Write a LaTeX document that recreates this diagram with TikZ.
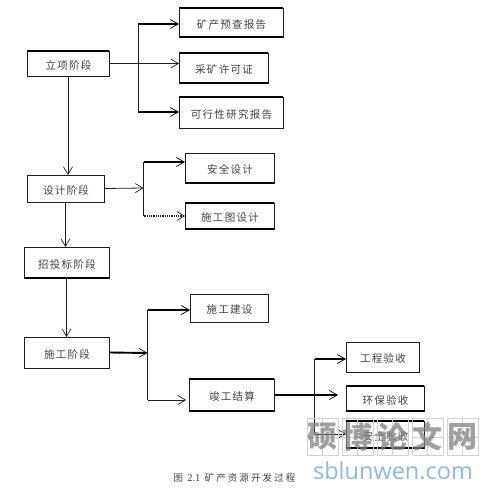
\documentclass[tikz,border=0pt]{standalone}
\usepackage{fontspec}
\setmainfont[LetterSpace=12]{Noto Sans CJK SC}
\newfontfamily\capfont[LetterSpace=22]{Noto Sans CJK SC}
\newfontfamily\numfont{Liberation Serif}
\newfontfamily\wmfont{Noto Sans CJK SC}
\newfontfamily\wmlat{Open Sans}
\usetikzlibrary{arrows.meta}
\definecolor{ink}{gray}{0.12}
\definecolor{txt}{gray}{0.25}
\definecolor{wmgrid}{gray}{0.82}
\definecolor{wmchar}{gray}{0.5}
\definecolor{wmblue}{RGB}{140,185,235}
\tikzset{
  x=1pt,y=-1pt,
  bx/.style={draw=ink,line width=0.8pt,fill=white,inner sep=0pt,outer sep=0pt,text=txt,text height=12.5pt,text depth=1pt,font=\fontsize{10.5}{12}\selectfont},
  hv/.style={draw=black,line width=2pt},
  link/.style={draw=ink,line width=0.8pt},
  to/.style={link,-{Straight Barb[length=7.5pt,width=9pt,line width=0.7pt]}},
  tothick/.style={draw=black,line width=1.9pt,-{Straight Barb[length=8pt,width=9pt,line width=0.7pt]}},
  wmcell/.style={draw=wmgrid,line width=0.7pt,minimum width=31pt,minimum height=37pt,inner sep=0pt},
}
\newcommand{\capbar}[1]{\draw[hv] (#1.north west) -- (#1.north east);}
\newcommand{\basebar}[1]{\draw[hv] (#1.south west) -- (#1.south east);}
\begin{document}
\begin{tikzpicture}
\useasboundingbox (0,0) rectangle (496,489);
% boxes
\node[bx,minimum width=82pt,minimum height=25pt] (a) at (68,63.5) {\hspace{1pt}立项阶段};
\node[bx,minimum width=104pt,minimum height=29pt] (b) at (231,22.5) {\hspace{1pt}矿产预查报告};
\node[bx,minimum width=89pt,minimum height=30pt] (c) at (223.5,68) {\hspace{1pt}采矿许可证};
\node[bx,minimum width=104pt,minimum height=31pt] (d) at (231,112.5) {\hspace{1pt}可行性研究报告};
\node[bx,minimum width=89pt,minimum height=30pt] (e) at (229.5,168) {\hspace{1pt}安全设计};
\node[bx,minimum width=89pt,minimum height=26pt] (f) at (229.5,216) {\hspace{1pt}施工图设计};
\node[bx,minimum width=77pt,minimum height=27pt] (g) at (65.5,188.5) {\hspace{1pt}设计阶段};
\node[bx,minimum width=85pt,minimum height=31pt] (h) at (66.5,262.5) {\hspace{1pt}招投标阶段};
\node[bx,minimum width=85pt,minimum height=31pt] (i) at (66.5,352.5) {\hspace{1pt}施工阶段};
\node[bx,minimum width=78pt,minimum height=28pt] (j) at (229,308) {\hspace{1pt}施工建设};
\node[bx,minimum width=85pt,minimum height=32pt] (k) at (231.5,395) {\hspace{1pt}竣工结算};
\node[bx,minimum width=73pt,minimum height=30pt] (l) at (382.5,357) {\hspace{1pt}工程验收};
\node[bx,minimum width=78pt,minimum height=25pt] (m) at (385,398.5) {\hspace{1pt}环保验收};
\node[bx,minimum width=78pt,minimum height=27pt] (n) at (385,434.5) {\hspace{1pt}安全验收};
% heavy box edges
\capbar{a}\capbar{b}\basebar{b}\basebar{c}\capbar{c}\capbar{d}
\basebar{e}\capbar{f}\basebar{f}\basebar{h}\capbar{k}\basebar{k}
\capbar{m}\basebar{m}\capbar{n}\basebar{n}
% junction points
\coordinate (t1) at (138,69.5);
\coordinate (t1a) at (138,24);
\coordinate (t1b) at (138,112);
\coordinate (t2) at (143.5,188);
\coordinate (t2a) at (143.5,162);
\coordinate (t2b) at (143.5,216);
\coordinate (t3) at (147.5,353);
\coordinate (t3a) at (147.5,310);
\coordinate (t3b) at (147.5,400);
\coordinate (t3e) at (186,400);
\coordinate (t4a) at (314.5,359);
\coordinate (t4b) at (314.5,434);
\coordinate (t4e) at (338,395);
% connectors
\draw[to] (a.east) -- (c.west |- a.east);
\draw[link] (t1a) -- (t1b);
\draw[tothick] (t1a) -- (b.west |- t1a);
\draw[tothick] (t1b) -- (d.west |- t1b);
\draw[to] (a.south) -- (g.north -| a.south);
\draw[to] (g.east) -- (t2);
\draw[link] (t2a) -- (t2b);
\draw[tothick] (t2a) -- (e.west |- t2a);
\draw[to,densely dotted,line width=1.2pt] (t2b) -- (f.west |- t2b);
\draw[to] (g.south) -- (h.north -| g.south);
\draw[to] (h.south) -- (i.north);
\draw[tothick] (i.east) -- (t3);
\draw[link] (t3a) -- (t3b);
\draw[tothick] (t3a) -- (j.west |- t3a);
\draw[to] (t3b) -- (t3e);
\draw[tothick] (k.east) -- (t4e);
\draw[link] (t4a) -- (t4b);
\draw[tothick] (t4a) -- (l.west |- t4a);
\draw[to] (t4b) -- (n.west |- t4b);
% caption
\node[inner sep=0pt,text=txt,font=\capfont\fontsize{9.5}{11}\selectfont] (cap) at (234.5,477.5) {图 {\numfont\fontsize{10.5}{11}\selectfont 2.1} 矿产资源开发过程};
% watermark
\foreach \cx/\ch/\nm in {322.5/硕/w1,357.5/博/w2,392.5/论/w3,427.5/文/w4,462.5/网/w5}{
  \node[wmcell] (\nm) at (\cx,437) {};
  \draw[wmgrid,line width=0.6pt] (\nm.north) -- (\nm.south) (\nm.west) -- (\nm.east);
  \node[inner sep=0pt,text=wmchar,text opacity=0.75,font=\wmfont\bfseries\fontsize{30}{30}\selectfont] (\nm t) at (\cx,437) {\ch};
}
\node[inner sep=0pt,text=wmblue,font=\wmlat\fontsize{23.5}{25}\selectfont] (wm) at (393,470.5) {sblunwen.com};
\end{tikzpicture}
\end{document}
